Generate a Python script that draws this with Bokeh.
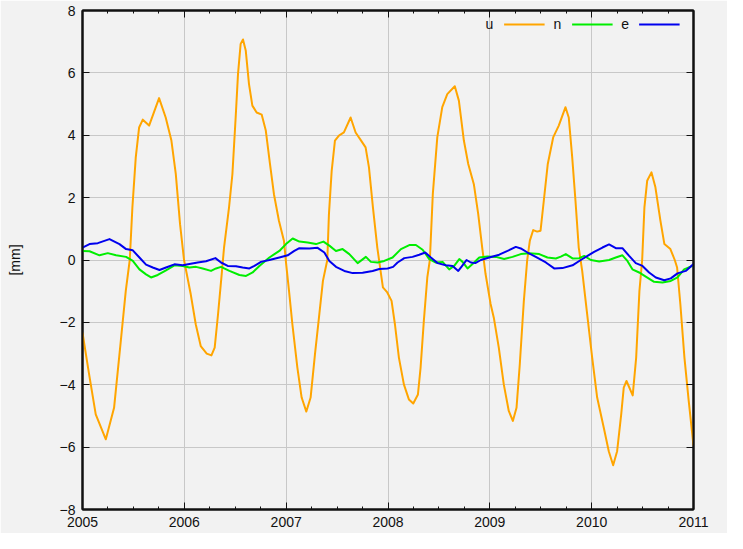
from bokeh.plotting import figure
from bokeh.models import FixedTicker, LinearAxis, Legend, LegendItem, Range1d, ColumnDataSource
from bokeh.embed import file_html
from bokeh.resources import INLINE

# ---------------- data (decimal year, mm) ----------------
u_dates = [
    2005.0, 2005.065, 2005.13, 2005.229, 2005.31, 2005.376, 2005.425, 2005.464, 2005.49, 2005.523,
    2005.556, 2005.592, 2005.654, 2005.752, 2005.817, 2005.873, 2005.916, 2005.958, 2005.997, 2006.024,
    2006.063, 2006.112, 2006.161, 2006.22, 2006.266, 2006.298, 2006.331, 2006.367, 2006.39, 2006.439,
    2006.472, 2006.504, 2006.527, 2006.553, 2006.576, 2006.603, 2006.635, 2006.668, 2006.71, 2006.76,
    2006.8, 2006.841, 2006.88, 2006.929, 2006.978, 2007.0, 2007.028, 2007.061, 2007.11, 2007.152,
    2007.198, 2007.24, 2007.283, 2007.322, 2007.361, 2007.404, 2007.42, 2007.447, 2007.479, 2007.518,
    2007.567, 2007.633, 2007.682, 2007.731, 2007.78, 2007.813, 2007.852, 2007.895, 2007.927, 2007.95,
    2007.993, 2008.035, 2008.068, 2008.107, 2008.156, 2008.205, 2008.248, 2008.294, 2008.32, 2008.352,
    2008.386, 2008.411, 2008.44, 2008.484, 2008.533, 2008.582, 2008.656, 2008.696, 2008.745, 2008.788,
    2008.843, 2008.886, 2008.925, 2008.958, 2009.007, 2009.039, 2009.088, 2009.137, 2009.186, 2009.226,
    2009.262, 2009.294, 2009.334, 2009.367, 2009.393, 2009.426, 2009.465, 2009.498, 2009.53, 2009.569,
    2009.622, 2009.677, 2009.743, 2009.775, 2009.809, 2009.841, 2009.873, 2009.907, 2009.956, 2010.005,
    2010.054, 2010.119, 2010.168, 2010.211, 2010.25, 2010.29, 2010.315, 2010.342, 2010.403, 2010.437,
    2010.469, 2010.496, 2010.518, 2010.545, 2010.587, 2010.626, 2010.675, 2010.714, 2010.773, 2010.816,
    2010.839, 2010.871, 2010.911, 2010.953, 2011.0,
]
u_values = [
    -2.33, -3.67, -4.95, -5.75, -4.74, -2.6, -0.99, 0.0, 1.69, 3.29,
    4.25, 4.5, 4.31, 5.19, 4.57, 3.83, 2.76, 1.15, 0.0, -0.45,
    -1.1, -2.06, -2.76, -3.0, -3.06, -2.81, -1.74, -0.45, 0.4, 1.69,
    2.75, 4.57, 5.96, 6.93, 7.07, 6.72, 5.64, 4.95, 4.73, 4.66,
    4.15, 3.08, 2.11, 1.26, 0.62, -0.13, -0.99, -2.06, -3.45, -4.41,
    -4.86, -4.41, -3.02, -1.85, -0.67, 0.0, 1.47, 2.86, 3.83, 3.99,
    4.09, 4.57, 4.09, 3.85, 3.61, 2.97, 1.69, 0.4, -0.35, -0.88,
    -1.04, -1.31, -2.06, -3.13, -3.99, -4.47, -4.6, -4.31, -3.45, -1.95,
    -0.56, 0.0, 2.11, 3.93, 4.9, 5.32, 5.57, 5.11, 3.83, 3.08,
    2.43, 1.47, 0.4, -0.45, -1.4, -1.85, -2.81, -3.99, -4.84, -5.16,
    -4.74, -3.35, -1.31, 0.0, 0.62, 0.96, 0.91, 0.94, 1.9, 3.08,
    3.93, 4.31, 4.9, 4.57, 3.29, 1.9, 0.4, -0.35, -1.74, -3.13,
    -4.41, -5.38, -6.13, -6.58, -6.13, -4.95, -4.09, -3.88, -4.34, -3.13,
    -0.99, 0.0, 1.69, 2.54, 2.81, 2.33, 1.26, 0.51, 0.35, 0.0,
    -0.24, -1.42, -3.13, -4.52, -5.95,
]

n_dates = [
    2005.0, 2005.069, 2005.167, 2005.248, 2005.33, 2005.428, 2005.494, 2005.559, 2005.624, 2005.673,
    2005.739, 2005.82, 2005.903, 2005.984, 2006.05, 2006.115, 2006.18, 2006.262, 2006.311, 2006.36,
    2006.443, 2006.541, 2006.606, 2006.671, 2006.737, 2006.835, 2006.933, 2006.998, 2007.064, 2007.13,
    2007.211, 2007.293, 2007.366, 2007.424, 2007.489, 2007.554, 2007.62, 2007.702, 2007.783, 2007.832,
    2007.898, 2007.963, 2008.045, 2008.127, 2008.209, 2008.274, 2008.34, 2008.405, 2008.47, 2008.536,
    2008.601, 2008.65, 2008.7, 2008.732, 2008.781, 2008.83, 2008.896, 2008.977, 2009.059, 2009.141,
    2009.223, 2009.304, 2009.386, 2009.485, 2009.566, 2009.648, 2009.697, 2009.746, 2009.812, 2009.878,
    2009.927, 2009.992, 2010.074, 2010.171, 2010.237, 2010.302, 2010.351, 2010.4, 2010.466, 2010.531,
    2010.613, 2010.695, 2010.777, 2010.843, 2010.908, 2011.0,
]
n_values = [
    0.29, 0.28, 0.15, 0.22, 0.15, 0.1, -0.03, -0.3, -0.46, -0.56,
    -0.48, -0.33, -0.17, -0.19, -0.24, -0.22, -0.27, -0.35, -0.27, -0.22,
    -0.35, -0.48, -0.51, -0.4, -0.19, 0.08, 0.29, 0.51, 0.69, 0.59,
    0.56, 0.51, 0.59, 0.46, 0.29, 0.35, 0.19, -0.1, 0.1, -0.06,
    -0.08, -0.03, 0.08, 0.35, 0.48, 0.48, 0.33, 0.03, -0.08, -0.06,
    -0.3, -0.19, 0.03, -0.06, -0.27, -0.13, 0.08, 0.11, 0.1, 0.03,
    0.1, 0.19, 0.22, 0.19, 0.08, 0.05, 0.11, 0.19, 0.05, 0.06,
    0.13, 0.0, -0.05, 0.0, 0.08, 0.15, -0.03, -0.3, -0.4, -0.53,
    -0.7, -0.72, -0.67, -0.56, -0.3, -0.17,
]

e_dates = [
    2005.0, 2005.069, 2005.15, 2005.265, 2005.363, 2005.428, 2005.494, 2005.559, 2005.624, 2005.69,
    2005.756, 2005.82, 2005.903, 2005.984, 2006.05, 2006.131, 2006.213, 2006.305, 2006.36, 2006.426,
    2006.507, 2006.573, 2006.639, 2006.688, 2006.753, 2006.835, 2006.933, 2007.015, 2007.08, 2007.13,
    2007.228, 2007.309, 2007.375, 2007.424, 2007.489, 2007.571, 2007.653, 2007.751, 2007.849, 2007.915,
    2007.996, 2008.05, 2008.094, 2008.16, 2008.241, 2008.307, 2008.366, 2008.421, 2008.487, 2008.568,
    2008.634, 2008.69, 2008.732, 2008.771, 2008.814, 2008.857, 2008.912, 2008.994, 2009.092, 2009.174,
    2009.255, 2009.304, 2009.37, 2009.451, 2009.55, 2009.632, 2009.713, 2009.812, 2009.893, 2009.959,
    2010.024, 2010.106, 2010.171, 2010.237, 2010.302, 2010.368, 2010.433, 2010.499, 2010.564, 2010.63,
    2010.713, 2010.777, 2010.843, 2010.924, 2011.0,
]
e_values = [
    0.4, 0.51, 0.54, 0.67, 0.51, 0.35, 0.31, 0.08, -0.15, -0.24,
    -0.32, -0.24, -0.14, -0.17, -0.13, -0.08, -0.04, 0.06, -0.08, -0.19,
    -0.2, -0.24, -0.27, -0.19, -0.06, 0.0, 0.08, 0.15, 0.29, 0.38,
    0.37, 0.39, 0.24, -0.03, -0.22, -0.35, -0.42, -0.41, -0.35, -0.29,
    -0.27, -0.22, -0.08, 0.06, 0.1, 0.17, 0.24, 0.08, -0.1, -0.17,
    -0.19, -0.35, -0.17, 0.0, -0.08, -0.1, 0.0, 0.08, 0.17, 0.29,
    0.42, 0.37, 0.24, 0.1, -0.08, -0.27, -0.26, -0.17, 0.0, 0.13,
    0.26, 0.4, 0.5, 0.38, 0.38, 0.13, -0.1, -0.19, -0.4, -0.56,
    -0.65, -0.59, -0.43, -0.35, -0.13,
]

year_ticks = [2005, 2006, 2007, 2008, 2009, 2010, 2011]
quarter_ticks = [2005 + i * 0.25 for i in range(25)]
y_ticks = [-8, -6, -4, -2, 0, 2, 4, 6, 8]

series_labels = ["u", "n", "e"]
series_colors = ["#ffa500", "#00ee00", "#0000ee"]

# ---------------- figure ----------------
FONT = "Liberation Sans"
BG = "#f2f2f2"
INK = "#111111"

p = figure(width=727, height=533, output_backend="svg", toolbar_location=None,
           x_range=Range1d(2005, 2011), y_range=Range1d(-8, 8),
           min_border_left=82, min_border_right=34, min_border_top=10, min_border_bottom=24,
           background_fill_color=BG, border_fill_color=BG)

p.outline_line_color = INK
p.outline_line_width = 2

xt = FixedTicker(ticks=year_ticks, minor_ticks=quarter_ticks)
yt = FixedTicker(ticks=y_ticks, minor_ticks=[])

for ax in (p.xaxis[0], p.yaxis[0]):
    ax.major_label_text_font = FONT
    ax.major_label_text_font_size = "14px"
    ax.major_label_text_color = INK
    ax.major_tick_in = 7
    ax.major_tick_out = 0
    ax.minor_tick_in = 3
    ax.minor_tick_out = 0
    ax.major_tick_line_color = INK
    ax.minor_tick_line_color = INK
    ax.axis_line_color = INK
    ax.axis_line_width = 2
    ax.major_label_standoff = 7

p.xaxis[0].ticker = xt
p.yaxis[0].ticker = yt
p.xaxis[0].major_label_overrides = {t: str(t) for t in year_ticks}
p.yaxis[0].axis_label = "[mm]"
p.yaxis[0].axis_label_text_font = FONT
p.yaxis[0].axis_label_text_font_size = "14px"
p.yaxis[0].axis_label_text_font_style = "normal"
p.yaxis[0].axis_label_text_color = INK
p.yaxis[0].axis_label_standoff = 34

top = LinearAxis(ticker=xt, major_label_overrides={t: "" for t in year_ticks},
                 major_tick_in=7, major_tick_out=0, minor_tick_in=3, minor_tick_out=0,
                 major_label_standoff=0, axis_line_color=INK, axis_line_width=2,
                 major_tick_line_color=INK, minor_tick_line_color=INK)
right = LinearAxis(ticker=yt, major_label_overrides={t: "" for t in y_ticks},
                   major_tick_in=7, major_tick_out=0, minor_tick_in=0, minor_tick_out=0,
                   major_label_standoff=0, axis_line_color=INK, axis_line_width=2,
                   major_tick_line_color=INK, minor_tick_line_color=None)
p.add_layout(top, "above")
p.add_layout(right, "right")

p.xgrid.ticker = xt
p.ygrid.ticker = yt
p.xgrid.grid_line_color = "#c8c8c8"
p.ygrid.grid_line_color = "#c8c8c8"
p.xgrid.grid_line_width = 1
p.ygrid.grid_line_width = 1

renderers = []
for dates, vals, col in ((u_dates, u_values, series_colors[0]),
                         (n_dates, n_values, series_colors[1]),
                         (e_dates, e_values, series_colors[2])):
    src = ColumnDataSource(dict(x=dates, y=vals))
    r = p.line("x", "y", source=src, line_color=col, line_width=2, line_join="round")
    renderers.append(r)

# legend: gnuplot style (label first, then sample)
blank = p.line(x=[], y=[], line_alpha=0)
items = [LegendItem(label=series_labels[0], renderers=[blank]),
         LegendItem(label=series_labels[1], renderers=[renderers[0]]),
         LegendItem(label=series_labels[2], renderers=[renderers[1]]),
         LegendItem(label=" ", renderers=[renderers[2]])]
legend = Legend(items=items, orientation="horizontal", location="top_right",
                background_fill_alpha=0, border_line_alpha=0,
                glyph_width=41, glyph_height=14, label_standoff=9, spacing=10,
                padding=0, margin=4, label_width=0, label_height=20,
                label_text_font=FONT, label_text_font_size="14px", label_text_color=INK)
p.add_layout(legend)

open("out.html", "w").write(file_html(p, INLINE))
